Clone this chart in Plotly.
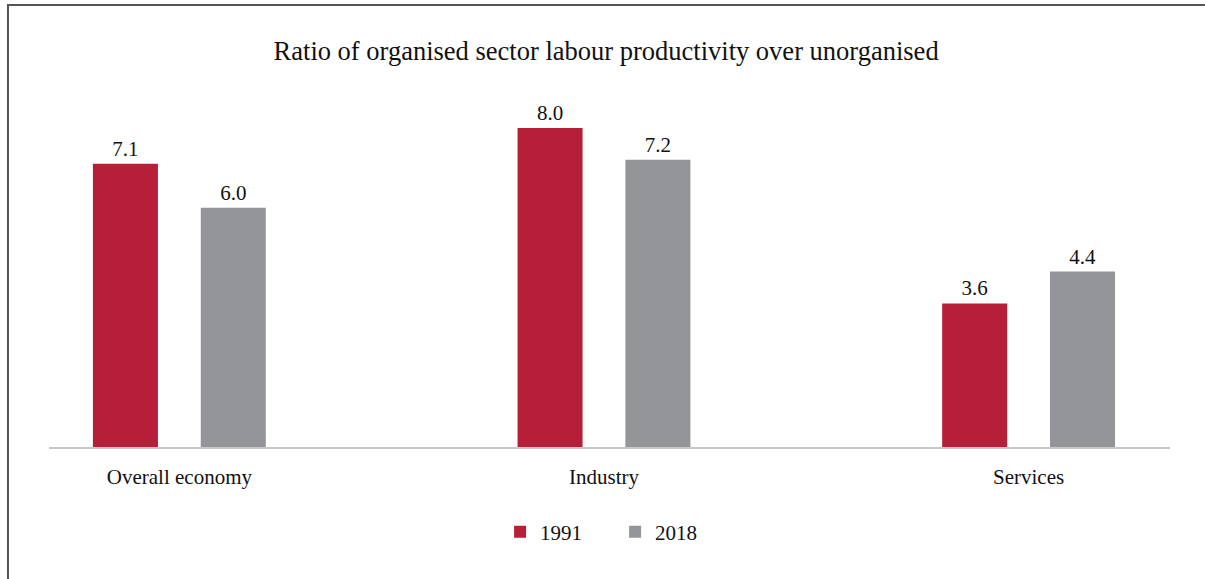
import plotly.graph_objects as go

# Sector categories and productivity ratios (organised / unorganised)
categories = ["Overall economy", "Industry", "Services"]
years = ["1991", "2018"]
ratio_1991 = [7.1, 8.0, 3.6]
ratio_2018 = [6.0, 7.2, 4.4]

colors = {"1991": "#B71F38", "2018": "#939598"}
serif = "Liberation Serif, Times New Roman, serif"

x_pos = list(range(len(categories)))

fig = go.Figure()
for year, vals in zip(years, [ratio_1991, ratio_2018]):
    fig.add_trace(go.Bar(
        x=x_pos,
        y=vals,
        name=year,
        marker=dict(color=colors[year], line=dict(width=0)),
        text=[f"{v:.1f}" for v in vals],
        textposition="outside",
        textfont=dict(family=serif, size=21, color="#111111"),
        cliponaxis=False,
    ))

fig.update_layout(
    width=1205,
    height=579,
    margin=dict(l=49, r=35, t=100, b=132),
    paper_bgcolor="white",
    plot_bgcolor="white",
    barmode="group",
    bargap=0.492,
    bargroupgap=0.397,
    title=dict(
        text="Ratio of organised sector labour productivity over unorganised",
        x=0.503, xanchor="center",
        y=0.913, yanchor="middle",
        font=dict(family=serif, size=26.5, color="#111111"),
    ),
    font=dict(family=serif, size=21, color="#111111"),
    legend=dict(
        orientation="h",
        x=0.505, xanchor="center",
        y=-0.245, yanchor="middle",
        font=dict(family=serif, size=21, color="#111111"),
        itemwidth=30,
        entrywidth=70,
        traceorder="normal",
    ),
    xaxis=dict(
        tickmode="array",
        tickvals=x_pos,
        ticktext=categories,
        range=[-0.307, 2.333],
        showgrid=False,
        zeroline=False,
        showline=True,
        linecolor="#c8c8c8",
        linewidth=2,
        ticks="",
        ticklabelstandoff=10,
        tickfont=dict(family=serif, size=21, color="#111111"),
    ),
    yaxis=dict(
        range=[0, 8.7],
        visible=False,
        showgrid=False,
        zeroline=False,
    ),
    showlegend=True,
)

# Frame around the figure (top and left edges visible)
fig.add_shape(
    type="rect",
    xref="paper", yref="paper",
    x0=-0.0366, x1=1.2, y0=-0.6, y1=1.274,
    line=dict(color="#555555", width=2),
    fillcolor="rgba(0,0,0,0)",
    layer="above",
)

fig.write_html("out.html")
